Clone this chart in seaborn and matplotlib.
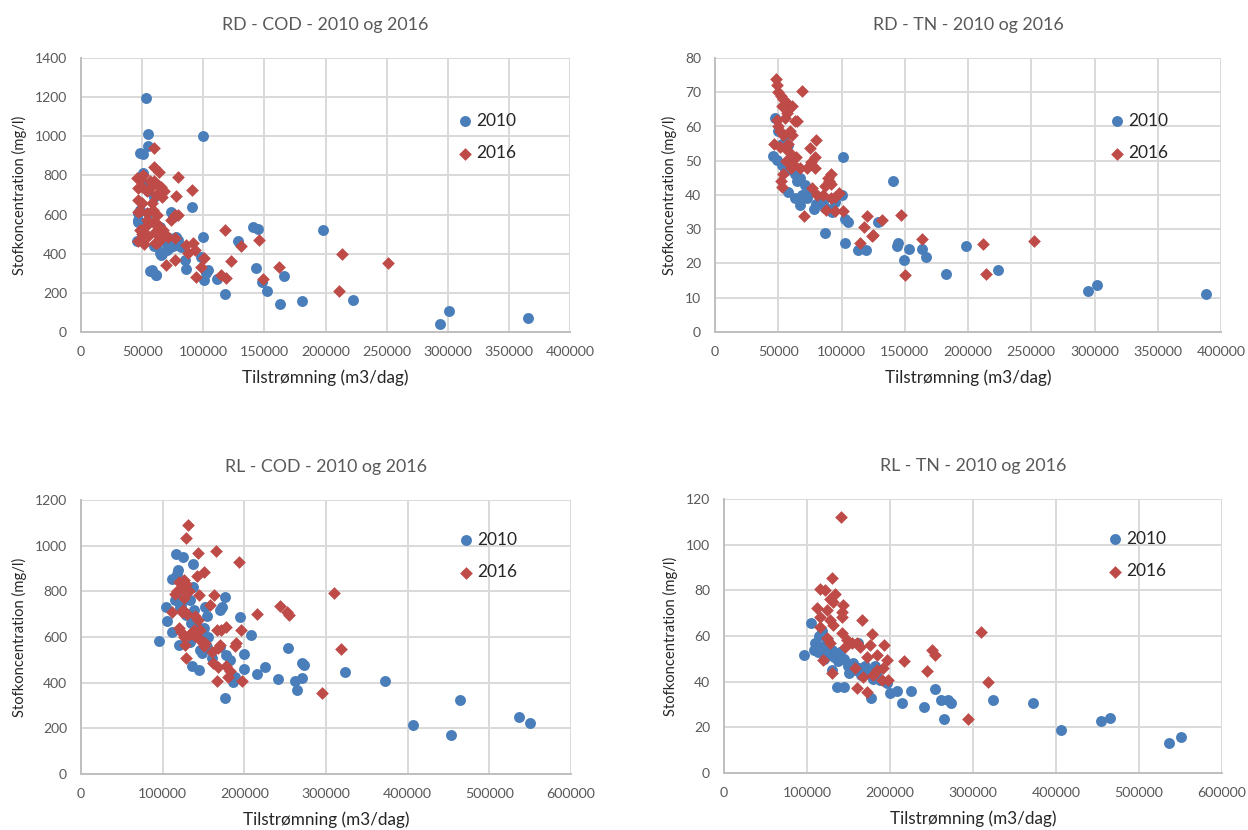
import matplotlib
matplotlib.use("Agg")
import matplotlib.pyplot as plt
import seaborn as sns
import numpy as np

# ---------------- DATA ----------------
# RD - COD
rd_cod_2010_x = [52800, 54900, 99800, 54700, 48000, 50800, 50800, 74000, 75300, 90500, 46800, 46800, 45400,
                 64400, 78000, 62000, 68000, 72000, 70000, 66000, 84800, 86200, 56300, 61700, 99800, 98400,
                 102500, 103800, 101000, 111000, 118000, 128300, 140600, 144600, 143300, 148000, 152000,
                 163000, 166000, 181000, 197600, 222700, 293600, 300700, 366000, 49500, 55000, 60000,
                 48000, 55000, 46500, 51000, 63000, 67000, 72000, 79000, 75000, 70000, 65000, 60000,
                 65800, 82000, 57700, 61700]
rd_cod_2010_y = [1198, 1011, 1004, 951, 914, 910, 812, 615, 590, 639, 610, 564, 465,
                 539, 487, 450, 470, 430, 420, 400, 368, 322, 314, 292, 487, 385,
                 300, 317, 266, 271, 193, 467, 535, 527, 326, 254, 210,
                 143, 285, 159, 520, 164, 43, 107, 73, 760, 720, 690,
                 625, 610, 573, 557, 520, 500, 480, 470, 440, 430, 405, 440,
                 394, 436, 317, 292]
rd_cod_2016_x = [60000, 59500, 63900, 79700, 90500, 78000, 45400, 48000, 50800, 46700, 56300, 65800,
                 60000, 64000, 68000, 50000, 53600, 57000, 61500, 66000, 46700, 50000, 57700, 48000,
                 46700, 53600, 59000, 62000, 53600, 60400, 48000, 52800, 59000, 64000, 67000, 60400,
                 50000, 54500, 61000, 66000, 46800, 51500, 60400, 62000, 74000, 76700, 79000, 71200,
                 76700, 86000, 91600, 87500, 93000, 101000, 69900, 76700, 98400, 94400, 117500, 131000,
                 123000, 114800, 118800, 146000, 148700, 162000, 213500, 211000, 251000]
rd_cod_2016_y = [940, 842, 815, 791, 725, 696, 786, 781, 803, 735, 769, 743,
                 770, 745, 720, 740, 720, 740, 700, 690, 675, 660, 658, 620,
                 615, 573, 625, 600, 610, 564, 522, 540, 560, 540, 520, 513,
                 500, 490, 505, 480, 465, 450, 454, 455, 573, 598, 597, 487,
                 479, 445, 455, 404, 419, 377, 343, 368, 334, 283, 522, 440,
                 365, 292, 275, 470, 271, 334, 399, 208, 353]

# RD - TN
rd_tn_2010_x = [46000, 48800, 47500, 50000, 55000, 57700, 52800, 55400, 63000, 67000, 71000, 65000,
                57700, 63300, 67200, 69000, 73000, 80000, 85000, 89000, 95000, 100000, 87000, 92500,
                101500, 103000, 105000, 87000, 103000, 113000, 119000, 129000, 141000, 145000, 144000,
                153700, 149500, 164000, 167000, 182700, 198800, 224000, 294500, 302000, 388000,
                53000, 60000, 62000, 75000, 78000, 82000]
rd_tn_2010_y = [51.3, 50.3, 62.5, 58.6, 57.6, 54.7, 48.8, 46.9, 46.0, 45.0, 43.0, 44.0,
                41.0, 39.0, 37.0, 40.0, 39.0, 37.5, 38.0, 36.0, 38.0, 40.0, 36.2, 35.0,
                51.1, 33.0, 32.0, 29.0, 26.1, 24.0, 24.0, 32.0, 44.0, 26.1, 25.1,
                24.1, 21.0, 24.1, 21.9, 17.0, 25.1, 18.1, 12.1, 13.8, 11.0,
                55.0, 50.0, 48.0, 41.0, 36.0, 38.0]
rd_tn_2016_x = [48000, 48800, 68600, 50000, 52000, 54000, 56000, 58000, 61000, 53000, 57000, 55000,
                63000, 49000, 50000, 51000, 54000, 59000, 61000, 64600, 47000, 51000, 55000, 58000,
                60000, 64000, 62000, 75000, 80000, 56000, 60000, 54000, 52000, 67000, 73000, 76000,
                79000, 79000, 89000, 90000, 87000, 52700, 76500, 81000, 85000, 92000, 95000, 98000,
                88000, 95000, 101500, 70300, 120000, 118000, 125000, 132000, 124000, 115000, 147000,
                163500, 150000, 212000, 214000, 252000, 92000, 92000]
rd_tn_2016_y = [74.0, 72.0, 70.5, 70.0, 69.0, 68.0, 67.0, 66.5, 66.0, 66.0, 64.0, 62.5,
                61.5, 62.0, 60.0, 58.6, 57.6, 58.6, 57.6, 61.5, 55.0, 54.0, 53.7, 55.0,
                52.0, 51.0, 49.0, 53.7, 56.0, 50.0, 48.0, 46.0, 44.0, 48.0, 48.0, 49.5,
                51.0, 48.0, 45.0, 44.0, 42.5, 42.2, 42.0, 40.0, 40.0, 39.0, 39.5, 40.5,
                35.6, 35.2, 35.2, 34.0, 34.0, 30.8, 28.4, 32.7, 28.0, 26.0, 34.2,
                27.1, 16.5, 25.6, 17.0, 26.6, 46.0, 43.3]

# RL - COD
rl_cod_2010_x = [95500, 104000, 105600, 111800, 119600, 116000, 125000, 137000, 111000, 119000, 137000,
                 117000, 115000, 122000, 133000, 138000, 130000, 135000, 143000, 154000, 156000, 152000,
                 136000, 144000, 148000, 160000, 170000, 173000, 176000, 194600, 207700, 178000, 182000,
                 188000, 186000, 176000, 200000, 199500, 215000, 225000, 241500, 253000, 262000, 264000,
                 271000, 271000, 273000, 323000, 371700, 406000, 453000, 464000, 536000, 550000,
                 133000, 145600, 145600, 154000, 170000, 117000, 121000, 129000, 150000]
rl_cod_2010_y = [583, 732, 671, 621, 565, 963, 951, 918, 855, 893, 817,
                 775, 760, 740, 760, 720, 700, 660, 645, 690, 601, 732,
                 474, 455, 528, 506, 718, 730, 776, 688, 607, 521, 499,
                 426, 404, 331, 524, 458, 437, 467, 417, 553, 407, 366,
                 419, 487, 477, 448, 406, 214, 169, 324, 251, 222,
                 579, 594, 543, 557, 557, 878, 730, 695, 640]
rl_cod_2016_x = [131000, 129000, 143600, 165000, 193800, 151000, 142000, 126000, 120000, 128000, 124000,
                 118000, 115000, 132000, 126000, 145000, 163000, 158000, 111000, 125000, 130000, 124000,
                 139000, 143000, 120000, 122000, 126000, 132000, 138000, 146000, 140000, 145000, 149000,
                 127000, 129000, 150000, 152000, 160000, 168000, 170000, 166000, 172000, 178000, 196000,
                 188500, 190000, 162000, 168000, 178000, 182000, 180000, 166000, 196700, 216000, 243600,
                 251800, 255000, 309700, 317900, 295000]
rl_cod_2016_y = [1092, 1032, 969, 976, 929, 884, 867, 850, 840, 830, 815,
                 800, 790, 800, 770, 782, 786, 742, 710, 720, 700, 710,
                 690, 675, 640, 620, 600, 610, 630, 630, 605, 590, 580,
                 563, 509, 560, 575, 535, 550, 565, 630, 630, 645, 630,
                 562, 572, 485, 470, 475, 450, 425, 407, 409, 700, 736,
                 711, 696, 792, 548, 354]

# RL - TN
rl_tn_2010_x = [104800, 96400, 110000, 115000, 118000, 122000, 126000, 130000, 133000, 137000, 120000,
                125000, 113000, 140000, 129700, 135800, 144600, 149000, 155000, 163000, 170000, 182000,
                175000, 161800, 177000, 188000, 196000, 200000, 208000, 215000, 225000, 241000, 254000,
                261000, 270000, 273000, 265000, 324000, 372000, 406000, 454000, 465000, 536500, 550600,
                115000, 118000, 108000, 145000, 150000, 158000, 165000, 180000, 185000]
rl_tn_2010_y = [65.8, 51.8, 57.0, 55.0, 53.0, 56.0, 52.0, 54.0, 51.0, 49.0, 50.0,
                58.0, 53.0, 53.0, 45.0, 37.8, 37.8, 47.0, 48.0, 46.0, 47.0, 47.0,
                44.0, 56.8, 32.7, 40.7, 39.3, 34.9, 36.0, 30.8, 36.0, 28.8, 36.8,
                32.0, 32.0, 30.5, 23.8, 32.0, 30.6, 18.7, 22.6, 23.9, 13.0, 15.6,
                60.0, 62.0, 54.0, 50.0, 44.0, 45.0, 43.0, 41.0, 45.0]
rl_tn_2016_x = [140600, 129700, 115700, 121700, 133700, 127700, 131700, 111700, 123700, 143700, 141800,
                141800, 115700, 127700, 131700, 115700, 141800, 147800, 153900, 160000, 163900, 145800,
                123700, 127700, 119600, 129700, 157800, 159900, 171900, 167800, 179900, 184000, 190000,
                198000, 192000, 196000, 193000, 176000, 184000, 171900, 166000, 178000, 217000, 244000,
                251000, 254000, 310000, 318000, 294000]
rl_tn_2016_y = [112.0, 85.6, 80.8, 80.1, 78.6, 76.4, 75.0, 72.1, 71.3, 73.5, 70.6,
                68.4, 68.4, 67.0, 64.8, 64.0, 61.1, 58.2, 56.8, 56.8, 55.3, 55.3,
                59.0, 56.8, 49.5, 43.6, 45.8, 37.1, 35.6, 42.1, 42.9, 45.1, 40.7,
                40.7, 45.8, 49.5, 56.0, 56.0, 51.6, 50.9, 67.0, 60.7, 48.9, 44.8,
                53.8, 51.6, 61.7, 39.7, 23.8]

titles = ["RD - COD - 2010 og 2016", "RD - TN - 2010 og 2016",
          "RL - COD - 2010 og 2016", "RL - TN - 2010 og 2016"]
series_labels = ["2010", "2016"]
x_label = "Tilstrømning (m3/dag)"
y_label = "Stofkoncentration (mg/l)"

# ---------------- STYLE ----------------
sns.set_theme(style="whitegrid")
plt.rcParams['font.family'] = ['Lato', 'DejaVu Sans']

BLUE = "#4A7EBB"
RED = "#BE4B48"
GRID = "#D9D9D9"
TXT = "#595959"

fig = plt.figure(figsize=(12.48, 8.3), dpi=100)
W, H = 1248, 830

def add_ax(l, r, t, b):
    return fig.add_axes([l / W, (H - b) / H, (r - l) / W, (b - t) / H])

panels = [
    dict(ax=add_ax(81, 570, 58, 332), d=(rd_cod_2010_x, rd_cod_2010_y, rd_cod_2016_x, rd_cod_2016_y),
         xlim=400000, xstep=50000, ylim=1400, ystep=200, leg=(0.75, 0.825)),
    dict(ax=add_ax(715, 1221, 58, 332), d=(rd_tn_2010_x, rd_tn_2010_y, rd_tn_2016_x, rd_tn_2016_y),
         xlim=400000, xstep=50000, ylim=80, ystep=10, leg=(0.76, 0.825)),
    dict(ax=add_ax(81, 571, 500, 774), d=(rl_cod_2010_x, rl_cod_2010_y, rl_cod_2016_x, rl_cod_2016_y),
         xlim=600000, xstep=100000, ylim=1200, ystep=200, leg=(0.75, 0.91)),
    dict(ax=add_ax(724, 1222, 499, 773), d=(rl_tn_2010_x, rl_tn_2010_y, rl_tn_2016_x, rl_tn_2016_y),
         xlim=600000, xstep=100000, ylim=120, ystep=20, leg=(0.75, 0.91)),
]

for p, title in zip(panels, titles):
    ax = p['ax']
    x10, y10, x16, y16 = p['d']
    sns.scatterplot(x=x10, y=y10, ax=ax, color=BLUE, marker='o', s=62, linewidth=0,
                    label=series_labels[0], zorder=3)
    sns.scatterplot(x=x16, y=y16, ax=ax, color=RED, marker='D', s=42, linewidth=0,
                    label=series_labels[1], zorder=4)
    ax.set_xlim(0, p['xlim'])
    ax.set_ylim(0, p['ylim'])
    ax.set_xticks(np.arange(0, p['xlim'] + 1, p['xstep']))
    ax.set_yticks(np.arange(0, p['ylim'] + 1, p['ystep']))
    ax.set_xticklabels([str(int(v)) for v in ax.get_xticks()])
    ax.set_yticklabels([str(int(v)) for v in ax.get_yticks()])
    ax.grid(True, color=GRID, linewidth=1.4)
    ax.set_facecolor("white")
    for side in ['top', 'right']:
        ax.spines[side].set_visible(False)
    for side in ['left', 'bottom']:
        ax.spines[side].set_visible(True)
        ax.spines[side].set_color("#BFBFBF")
        ax.spines[side].set_linewidth(1.4)
    ax.tick_params(axis='x', labelsize=10.3, colors=TXT, length=0, pad=10)
    ax.tick_params(axis='y', labelsize=10, colors=TXT, length=0, pad=10)
    ax.set_xlabel(x_label, fontsize=12.3, color="#262626", labelpad=8)
    ax.set_ylabel(y_label, fontsize=10.6, color="#262626", labelpad=6)
    ax.set_title(title, fontsize=12.8, color=TXT, pad=20)
    leg = ax.legend(loc='upper left', bbox_to_anchor=p['leg'], frameon=False, fontsize=12.5,
                    handletextpad=0.05, labelspacing=0.95, borderaxespad=0, handlelength=1.2,
                    markerscale=1.0)
    for t in leg.get_texts():
        t.set_color("#262626")

fig.savefig("out.png", dpi=100, facecolor="white")
